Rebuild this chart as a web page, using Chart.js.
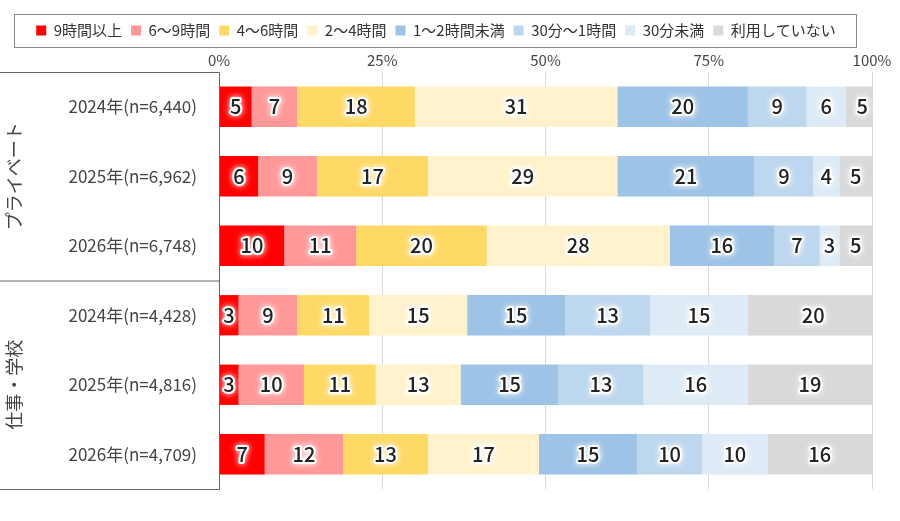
<!DOCTYPE html>
<html>
<head>
<meta charset="utf-8">
<script src="https://cdn.jsdelivr.net/npm/chart.js@4"></script>
<style>
  body { margin: 0; background: #fff; }
</style>
</head>
<body>
<canvas id="myChart" width="900" height="521"></canvas>
<script>
const categories = ["2024年(n=6,440)", "2025年(n=6,962)", "2026年(n=6,748)",
  "2024年(n=4,428)", "2025年(n=4,816)", "2026年(n=4,709)"];
const groups = ["プライベート", "仕事・学校"];
const seriesNames = ["9時間以上", "6～9時間", "4～6時間", "2～4時間", "1～2時間未満", "30分～1時間", "30分未満", "利用していない"];
const colors = ["#FF0000", "#FF9999", "#FFD966", "#FFF2CC", "#9DC3E6", "#BDD7EE", "#DEEBF7", "#D9D9D9"];
const h9 = [5, 6, 10, 3, 3, 7];
const h6 = [7, 9, 11, 9, 10, 12];
const h4 = [18, 17, 20, 11, 11, 13];
const h2 = [31, 29, 28, 15, 13, 17];
const h1 = [20, 21, 16, 15, 15, 15];
const m30 = [9, 9, 7, 13, 13, 10];
const mLess = [6, 4, 3, 15, 16, 10];
const none = [5, 5, 5, 20, 19, 16];
const tickLabels = ["0%", "25%", "50%", "75%", "100%"];

const values = [h9, h6, h4, h2, h1, m30, mLess, none];
const font = "'Noto Sans CJK JP', 'Noto Sans', sans-serif";

// draws value labels, legend border and left group boxes
const extras = {
  id: "extras",
  afterDatasetsDraw(chart) {
    const ctx = chart.ctx;
    ctx.save();
    ctx.font = "500 20px " + font;
    ctx.textAlign = "center";
    ctx.textBaseline = "middle";
    ctx.lineJoin = "round";
    chart.data.datasets.forEach((ds, i) => {
      chart.getDatasetMeta(i).data.forEach((bar, j) => {
        const x = (bar.x + bar.base) / 2;
        ctx.shadowColor = "#fff";
        ctx.shadowBlur = 6;
        ctx.strokeStyle = "#fff";
        ctx.lineWidth = 4;
        ctx.strokeText(ds.data[j], x, bar.y);
        ctx.shadowBlur = 0;
        ctx.fillStyle = "#222";
        ctx.fillText(ds.data[j], x, bar.y);
      });
    });
    ctx.restore();
  },
  afterDraw(chart) {
    const ctx = chart.ctx;
    const area = chart.chartArea;
    const lg = chart.legend;
    ctx.save();
    ctx.strokeStyle = "#888";
    ctx.lineWidth = 1;
    ctx.strokeRect(lg.left + 14.5, lg.top + 0.5, lg.width - 30, lg.height - 1);
    // group boxes
    const y = chart.scales.y;
    const top = area.top, bottom = area.bottom;
    const mid = (y.getPixelForValue(2) + y.getPixelForValue(3)) / 2;
    ctx.strokeStyle = "#666";
    ctx.beginPath();
    ctx.moveTo(0, top + 0.5); ctx.lineTo(area.left + 0.5, top + 0.5);
    ctx.lineTo(area.left + 0.5, bottom + 0.5); ctx.lineTo(0, bottom + 0.5);
    ctx.moveTo(0, mid + 0.5); ctx.lineTo(area.left, mid + 0.5);
    ctx.stroke();
    ctx.fillStyle = "#444";
    ctx.font = "18px " + font;
    ctx.textAlign = "center";
    ctx.textBaseline = "middle";
    [[top, mid], [mid, bottom]].forEach((r, i) => {
      ctx.save();
      ctx.translate(14, (r[0] + r[1]) / 2);
      ctx.rotate(-Math.PI / 2);
      ctx.fillText(groups[i], 0, 0);
      ctx.restore();
    });
    ctx.restore();
  }
};

const ctx = document.getElementById("myChart").getContext("2d");
const chart = new Chart(ctx, {
  type: "bar",
  data: {
    labels: categories,
    datasets: values.map((v, i) => ({
      label: seriesNames[i],
      data: v,
      backgroundColor: colors[i],
      barPercentage: 0.58,
      categoryPercentage: 1
    }))
  },
  options: {
    indexAxis: "y",
    responsive: false,
    animation: false,
    layout: { padding: { top: 14, right: 28, left: 0, bottom: 32 } },
    plugins: {
      legend: {
        position: "top",
        labels: { boxWidth: 10, boxHeight: 10, padding: 9, color: "#333", font: { family: font, size: 15 } }
      },
      tooltip: { enabled: false }
    },
    scales: {
      x: {
        position: "top",
        stacked: true,
        min: 0, max: 100,
        ticks: { stepSize: 25, maxRotation: 0, color: "#444", font: { family: font, size: 15 },
          callback: (v) => tickLabels[v / 25] },
        grid: { color: "#d9d9d9", drawTicks: false },
        border: { display: false }
      },
      y: {
        stacked: true,
        afterFit: (s) => { s.width = 219; },
        ticks: { color: "#444", padding: 14, font: { family: font, size: 17 } },
        grid: { display: false },
        border: { display: false }
      }
    }
  },
  plugins: [extras]
});
</script>
</body>
</html>
